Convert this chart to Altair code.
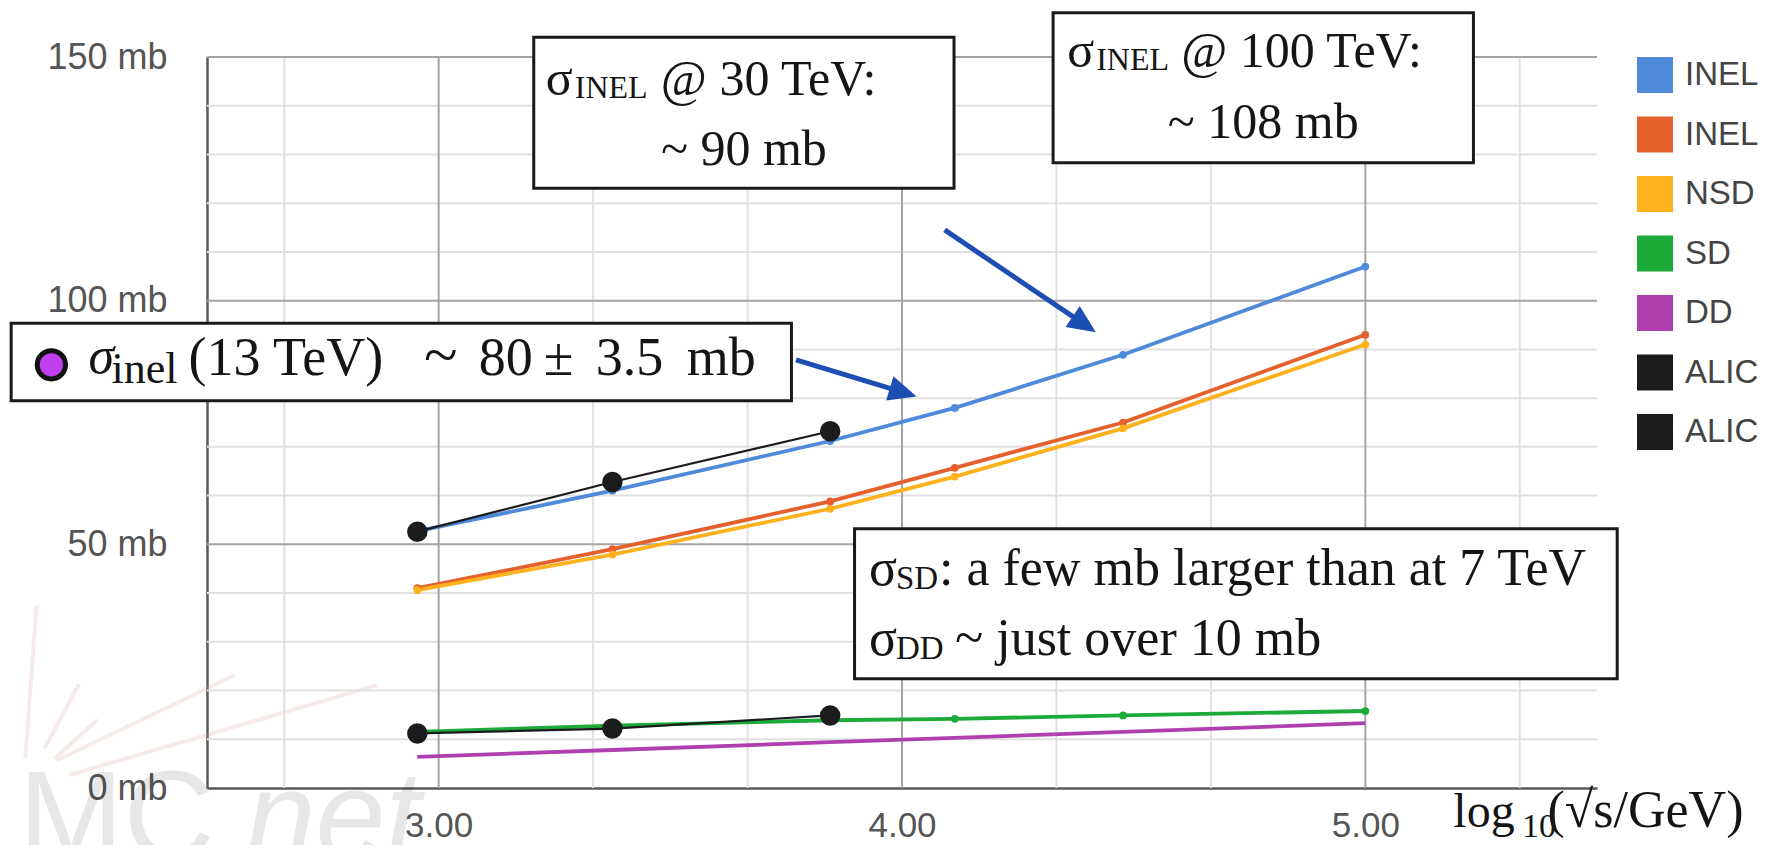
import altair as alt
import pandas as pd

# ---------------- data ----------------
energy_x = [2.954, 3.375, 3.845, 4.114, 4.477, 5.0]          # log10(sqrt(s)/GeV)
inel = [52.7, 61.0, 71.2, 78.0, 88.9, 107.0]
inel_gt0 = [41.0, 49.0, 58.8, 65.7, 75.0, 93.0]
nsd = [40.6, 47.9, 57.3, 63.9, 73.8, 91.0]
sd = [11.5, 12.8, 13.9, 14.2, 14.9, 15.8]
dd = [6.4, 7.8, 9.4, 10.3, 11.5, 13.3]

alice_x = [2.954, 3.375, 3.845]
alice_inel = [52.6, 62.8, 73.2]
alice_sd = [11.2, 12.2, 14.9]

series_names = ["INEL", "INEL>0", "NSD", "SD", "DD", "ALICE INEL", "ALICE SD"]
series_colors = ["#4f89d9", "#e5602c", "#fdb11c", "#1caa38", "#b03fb0", "#1c1c1c", "#1c1c1c"]
model_names = series_names[:5]
model_colors = series_colors[:5]

x_major = [3, 4, 5]
x_minor = [2.6667, 3.3333, 3.6667, 4.3333, 4.6667, 5.3333]
y_major = [50, 100, 150]
y_minor = [10, 20, 30, 40, 60, 70, 80, 90, 110, 120, 130, 140]
y_ticks = [0, 50, 100, 150]

# ---------------- tables ----------------
model = pd.DataFrame(
    [(x, v, "INEL") for x, v in zip(energy_x, inel)]
    + [(x, v, "INEL>0") for x, v in zip(energy_x, inel_gt0)]
    + [(x, v, "NSD") for x, v in zip(energy_x, nsd)]
    + [(x, v, "SD") for x, v in zip(energy_x, sd)]
    + [(x, v, "DD") for x, v in zip(energy_x, dd)],
    columns=["x", "y", "series"],
)
alice = pd.DataFrame(
    [(x, v, "ALICE INEL") for x, v in zip(alice_x, alice_inel)]
    + [(x, v, "ALICE SD") for x, v in zip(alice_x, alice_sd)],
    columns=["x", "y", "series"],
)

XS = alt.Scale(domain=[2.5, 5.5], nice=False, zero=False)
YS = alt.Scale(domain=[0, 150], nice=False, zero=False)
XAX = alt.Axis(values=x_major, format=".2f", title=None, grid=False, ticks=False, tickSize=0,
               labelPadding=48, labelBaseline="alphabetic", labelFontSize=35,
               labelFont="Liberation Sans", labelColor="#555555", labelFlush=False,
               labelOverlap=False, domainColor="#5a5a5a", domainWidth=2.5)
YAX = alt.Axis(values=y_ticks, labelExpr="datum.value + ' mb'", title=None, grid=False,
               ticks=False, tickSize=0, labelPadding=40, labelBaseline="middle",
               labelFontSize=36, labelFont="Liberation Sans", labelColor="#555555",
               labelFlush=False, labelOverlap=False, domainColor="#5a5a5a", domainWidth=2.5)


def X(f):
    return alt.X(f, type="quantitative", scale=XS, axis=XAX)


def Y(f):
    return alt.Y(f, type="quantitative", scale=YS, axis=YAX)


# ---------------- watermark (MCnet logo) ----------------
rays = pd.DataFrame(
    [(2.108, 6.42, 2.132, 37.19), (2.151, 8.47, 2.222, 20.98), (2.173, 6.22, 2.261, 13.8),
     (2.179, 5.81, 2.557, 23.04), (2.205, 2.73, 2.864, 21.0)],
    columns=["x", "y", "x2", "y2"],
)
wm_rays = alt.Chart(rays).mark_rule(color="#d9a49a", opacity=0.22, strokeWidth=4,
                                    strokeCap="round").encode(
    x=X("x"), y=Y("y"), x2="x2", y2="y2")
wm_mc = alt.Chart(pd.DataFrame({"t": ["MC"], "x": [2.093], "y": [-14.5]})).mark_text(
    align="left", baseline="alphabetic", font="Liberation Sans", fontSize=126,
    color="#000000", opacity=0.09).encode(x=X("x"), y=Y("y"), text="t:N")
wm_net = alt.Chart(pd.DataFrame({"t": ["net"], "x": [2.583], "y": [-14.5]})).mark_text(
    align="left", baseline="alphabetic", font="Liberation Sans", fontSize=126,
    fontStyle="italic", color="#000000", opacity=0.09).encode(x=X("x"), y=Y("y"), text="t:N")

# ---------------- grid ----------------
grid_xmin = alt.Chart(pd.DataFrame({"v": x_minor})).mark_rule(color="#e0e0e0", strokeWidth=2).encode(x=X("v"))
grid_ymin = alt.Chart(pd.DataFrame({"v": y_minor})).mark_rule(color="#e0e0e0", strokeWidth=2).encode(y=Y("v"))
grid_xmaj = alt.Chart(pd.DataFrame({"v": x_major})).mark_rule(color="#a5a5a5", strokeWidth=2).encode(x=X("v"))
grid_ymaj = alt.Chart(pd.DataFrame({"v": y_major})).mark_rule(color="#a5a5a5", strokeWidth=2).encode(y=Y("v"))

# ---------------- series ----------------
lines = alt.Chart(model).mark_line(strokeWidth=3.8, strokeJoin="round").encode(
    x=X("x"), y=Y("y"),
    color=alt.Color("series:N", scale=alt.Scale(domain=model_names, range=model_colors),
                    legend=None))

markers = alt.Chart(model).transform_filter(alt.datum.series != "DD").mark_point(
    filled=True, size=60, opacity=1).encode(
    x=X("x"), y=Y("y"),
    fill=alt.Fill("series:N", scale=alt.Scale(domain=series_names, range=series_colors),
                  legend=alt.Legend(
                      title=None, orient="right", offset=40, symbolType="square",
                      symbolSize=1296, symbolStrokeWidth=0, symbolOpacity=1, labelFontSize=33,
                      labelFont="Liberation Sans", labelColor="#444444", labelOffset=12,
                      rowPadding=23.5, labelLimit=600, padding=0,
                      labelExpr="substring(datum.label, 0, 4)")))

alice_lines = alt.Chart(alice).mark_line(strokeWidth=2.2, color="#1c1c1c").encode(
    x=X("x"), y=Y("y"), detail="series:N")
alice_dots = alt.Chart(alice).mark_circle(size=420, color="#1c1c1c", opacity=1).encode(
    x=X("x"), y=Y("y"))

# ---------------- annotations ----------------
boxes = pd.DataFrame(
    [(3.2052, 4.1123, 154.05, 123.08), (4.3261, 5.2333, 159.1, 128.3),
     (2.0773, 3.7614, 95.38, 79.45), (3.8976, 5.5436, 53.19, 22.42)],
    columns=["x", "x2", "y", "y2"],
)
box_layer = alt.Chart(boxes).mark_rect(fill="white", stroke="#1a1a1a", strokeWidth=3).encode(
    x=X("x"), x2="x2", y=Y("y"), y2="y2")

arrow_lines = pd.DataFrame(
    [(3.7713, 87.86, 3.9903, 81.52), (4.0920, 114.52, 4.3825, 95.84)],
    columns=["x", "y", "x2", "y2"],
)
arrow_color = "#1d4fb2"
arrow_rule = alt.Chart(arrow_lines).mark_rule(color=arrow_color, strokeWidth=5).encode(
    x=X("x"), y=Y("y"), x2="x2", y2="y2")
head_shape = "M0,0L-2,-0.9L-2,0.9Z"
head1 = alt.Chart(pd.DataFrame({"x": [4.0315], "y": [80.33]})).mark_point(
    shape=head_shape, filled=True, color=arrow_color, size=784, angle=16.9, opacity=1).encode(
    x=X("x"), y=Y("y"))
head2 = alt.Chart(pd.DataFrame({"x": [4.4184], "y": [93.54]})).mark_point(
    shape=head_shape, filled=True, color=arrow_color, size=784, angle=34.1, opacity=1).encode(
    x=X("x"), y=Y("y"))

marker_13 = alt.Chart(pd.DataFrame({"x": [2.1641], "y": [86.83]})).mark_circle(
    size=800, color="#c03fee", stroke="#111111", strokeWidth=5, opacity=1).encode(
    x=X("x"), y=Y("y"))


def text_layer(rows, size, align="left", style="normal", color="#151515"):
    df = pd.DataFrame(rows, columns=["t", "x", "y"])
    return alt.Chart(df).mark_text(align=align, baseline="alphabetic", fontSize=size,
                                   fontStyle=style, font="Liberation Serif", color=color).encode(
        x=X("x"), y=Y("y"), text="t:N")


t50 = text_layer([("σ", 3.2311, 142.21), ("@ 30 TeV:", 3.4795, 142.21),
                  ("σ", 4.3564, 148.02), ("@ 100 TeV:", 4.6026, 148.02)], 50)
t50c = text_layer([("~ 90 mb", 3.6587, 127.85), ("~ 108 mb", 4.7797, 133.33)], 50, align="center")
tsc32 = text_layer([("INEL", 3.2937, 141.5), ("INEL", 4.4190, 147.35)], 32)
tsc33 = text_layer([("SD", 3.9870, 40.88), ("DD", 3.9870, 26.52)], 33)
t52 = text_layer([("σ", 3.9287, 41.70), (": a few mb larger than at 7 TeV", 4.0799, 41.70),
                  ("σ", 3.9287, 27.34), ("~ just over 10 mb", 4.1145, 27.34),
                  ("(√s/GeV)", 5.3930, -8.0)], 52)
t54 = text_layer([("(13 TeV)", 2.4600, 84.78), ("80", 3.0864, 84.78), ("±", 3.2268, 84.78),
                  ("3.5", 3.3391, 84.78), ("mb", 3.5356, 84.78)], 54)
tlog = text_layer([("log", 5.1900, -8.0)], 48)
ttilde = text_layer([("~", 3.0043, 84.78)], 62, align="center")
tital = text_layer([("σ", 2.2441, 85.13)], 52, style="italic")
tinel = text_layer([("inel", 2.2937, 83.08)], 44)
tsub = text_layer([("10", 5.3380, -10.0)], 34)

chart = alt.layer(
    wm_rays, wm_mc, wm_net,
    grid_xmin, grid_ymin, grid_xmaj, grid_ymaj,
    lines, markers, alice_lines, alice_dots,
    box_layer, arrow_rule, head1, head2, marker_13,
    t50, t50c, tsc32, tsc33, t52, t54, tlog, ttilde, tital, tinel, tsub,
).properties(
    width=1390, height=731,
    autosize=alt.AutoSizeParams(type="none"),
    padding={"left": 199, "top": 49, "right": 163, "bottom": 57},
    background="white",
).configure_view(stroke=None)

chart.save("out.html", embed_options={"renderer": "svg", "actions": False})
